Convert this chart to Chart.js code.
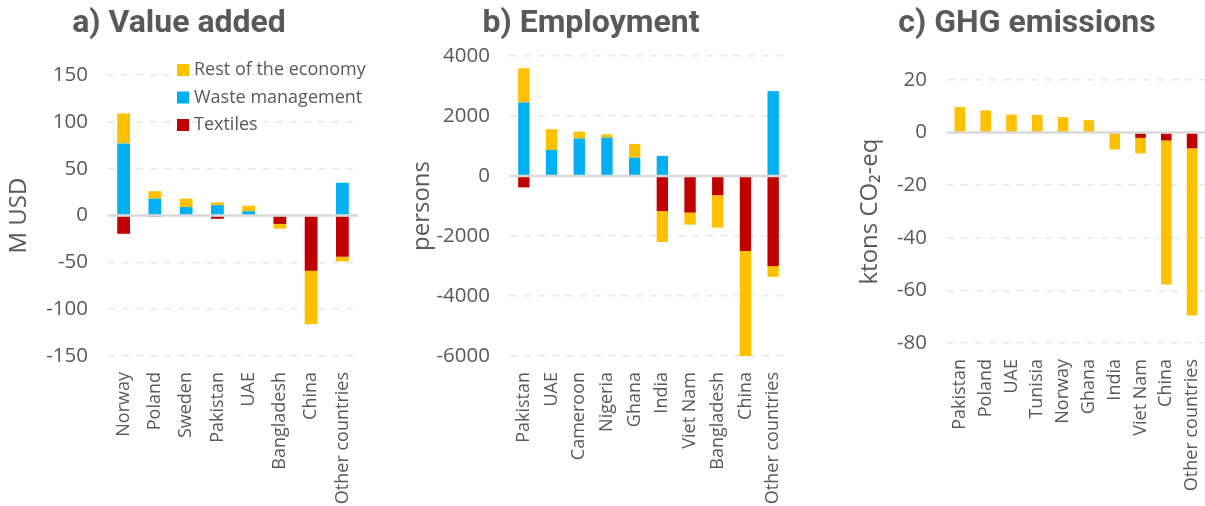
<!DOCTYPE html>
<html>
<head>
<meta charset="utf-8">
<script src="https://cdn.jsdelivr.net/npm/chart.js@4/dist/chart.umd.min.js"></script>
<style>
  body { margin: 0; background: #fff; }
  #wrap { position: relative; width: 1205px; height: 506px; overflow: hidden; }
  .panel { position: absolute; top: 0; height: 506px; }
</style>
</head>
<body>
<div id="wrap">
  <div class="panel" style="left:0;width:380px"><canvas id="valueAdded"></canvas></div>
  <div class="panel" style="left:395px;width:425px"><canvas id="employment"></canvas></div>
  <div class="panel" style="left:825px;width:380px"><canvas id="ghg"></canvas></div>
</div>
<script>
// a) value added, M USD
const vaCountries = ["Norway", "Poland", "Sweden", "Pakistan", "UAE", "Bangladesh", "China", "Other countries"];
const vaTextiles = [-19.5, -1.5, 0, -3.5, 0, -9, -59, -44];
const vaWaste = [77, 18, 9, 11, 4.5, 0, 0, 35];
const vaRest = [32, 8, 9, 3, 6, -5, -57, -5];
const vaTicks = [-150, 150, 50];

// b) employment, persons
const empCountries = ["Pakistan", "UAE", "Cameroon", "Nigeria", "Ghana", "India", "Viet Nam", "Bangladesh", "China", "Other countries"];
const empTextiles = [-380, 0, 0, 0, 0, -1170, -1220, -640, -2500, -3000];
const empWaste = [2450, 870, 1250, 1280, 610, 670, 0, 0, 0, 2830];
const empRest = [1140, 690, 230, 110, 460, -1030, -400, -1080, -3500, -360];
const empTicks = [-6000, 4000, 2000];

// c) GHG emissions, ktons CO2-eq
const ghgCountries = ["Pakistan", "Poland", "UAE", "Tunisia", "Norway", "Ghana", "India", "Viet Nam", "China", "Other countries"];
const ghgTextiles = [0, 0, 0, 0, 0, 0, 0, -2, -3, -6];
const ghgWaste = [0, 0, 0, 0, 0, 0, 0, 0, 0, 0];
const ghgRest = [9.7, 8.4, 6.8, 6.7, 5.9, 4.7, -6.4, -5.9, -54.8, -63.5];
const ghgTicks = [-80, 20, 20];

const seriesNames = ["Textiles", "Waste management", "Rest of the economy"];
const seriesColors = ["#C00000", "#00B0F0", "#FFC000"];

const GREY = '#595959';
Chart.defaults.font.family = "'Open Sans', sans-serif";
Chart.defaults.color = GREY;

// solid line at y = 0 over the dashed grid
const zeroLine = {
  id: 'zeroLine',
  afterDatasetsDraw(chart) {
    const {ctx, chartArea, scales: {y}} = chart;
    const py = y.getPixelForValue(0);
    ctx.save();
    ctx.strokeStyle = '#d9d9d9';
    ctx.lineWidth = 2.5;
    ctx.beginPath();
    ctx.moveTo(chartArea.left, py);
    ctx.lineTo(chartArea.right, py);
    ctx.stroke();
    ctx.restore();
  }
};

// square-marker legend, listed top to bottom in reverse series order
const boxLegend = {
  id: 'boxLegend',
  afterDraw(chart, args, opts) {
    if (!opts.show) return;
    const ctx = chart.ctx;
    const sets = chart.data.datasets.slice().reverse();
    ctx.save();
    ctx.font = "18px 'Open Sans', sans-serif";
    ctx.textBaseline = 'middle';
    sets.forEach((ds, i) => {
      const cy = opts.y + i * opts.gap;
      ctx.fillStyle = ds.backgroundColor;
      ctx.fillRect(opts.x, cy - 6, 12, 12);
      ctx.fillStyle = GREY;
      ctx.fillText(ds.label, opts.x + 17, cy);
    });
    ctx.restore();
  }
};

function makePanel(id, cfg) {
  const datasets = [cfg.textiles, cfg.waste, cfg.rest].map((vals, i) => ({
    label: seriesNames[i],
    data: vals,
    backgroundColor: seriesColors[i],
    borderWidth: 0,
    barPercentage: 0.41,
    categoryPercentage: 1
  }));

  return new Chart(document.getElementById(id), {
    type: 'bar',
    data: { labels: cfg.labels, datasets: datasets },
    plugins: [zeroLine, boxLegend],
    options: {
      responsive: true,
      maintainAspectRatio: false,
      animation: false,
      layout: { padding: { left: cfg.padLeft, right: cfg.padRight, top: 0, bottom: 0 } },
      plugins: {
        legend: { display: false },
        tooltip: { enabled: false },
        title: {
          display: true,
          text: cfg.title,
          color: GREY,
          font: { family: "'Liberation Sans Narrow', 'Arial Narrow', Roboto, sans-serif", size: 32, weight: 'bold', lineHeight: 1 },
          padding: { top: 8, bottom: cfg.top - 8 - 32 }
        },
        boxLegend: cfg.legend || { show: false }
      },
      scales: {
        x: {
          stacked: true,
          grid: { display: false },
          border: { display: false },
          ticks: {
            minRotation: 90,
            maxRotation: 90,
            autoSkip: false,
            padding: 8,
            font: { size: 18 }
          },
          afterFit(s) {
            s.height = 506 - cfg.bottom;
            s.paddingLeft = 0;
            s.paddingRight = 0;
          }
        },
        y: {
          stacked: true,
          min: cfg.ticks[0],
          max: cfg.ticks[1],
          ticks: {
            stepSize: cfg.ticks[2],
            padding: 20,
            font: { size: 20.5 },
            callback: v => String(v)
          },
          grid: {
            drawTicks: false,
            lineWidth: 1.5,
            color: c => c.tick && c.tick.value === 0 ? 'rgba(0,0,0,0)' : '#e8e8e8'
          },
          border: { display: false, dash: [7, 7] },
          title: {
            display: true,
            text: cfg.yTitle,
            color: GREY,
            font: { size: 24 },
            padding: { top: cfg.yTitlePad, bottom: 0 }
          },
          afterFit(s) {
            s.width = cfg.left - cfg.padLeft;
            s.paddingTop = 0;
            s.paddingBottom = 0;
          }
        }
      }
    }
  });
}

makePanel('valueAdded', {
  title: 'a) Value added',
  labels: vaCountries, textiles: vaTextiles, waste: vaWaste, rest: vaRest,
  ticks: vaTicks, yTitle: 'M USD',
  left: 108, padLeft: 0, padRight: 22, top: 75, bottom: 356, yTitlePad: 5,
  legend: { show: true, x: 177, y: 70, gap: 27.5 }
});

makePanel('employment', {
  title: 'b) Employment',
  labels: empCountries, textiles: empTextiles, waste: empWaste, rest: empRest,
  ticks: empTicks, yTitle: 'persons',
  left: 115, padLeft: 0, padRight: 33, top: 56, bottom: 356, yTitlePad: 13
});

makePanel('ghg', {
  title: 'c) GHG emissions',
  labels: ghgCountries, textiles: ghgTextiles, waste: ghgWaste, rest: ghgRest,
  ticks: ghgTicks, yTitle: 'ktons CO₂-eq',
  left: 122, padLeft: 24, padRight: 0, top: 80, bottom: 343, yTitlePad: 7
});
</script>
</body>
</html>
